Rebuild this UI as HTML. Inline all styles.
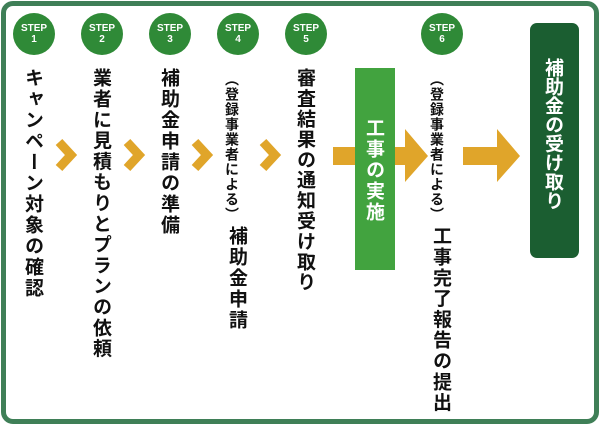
<!DOCTYPE html>
<html><head><meta charset="utf-8"><style>
html,body{margin:0;padding:0;background:#fff;}
#c{position:relative;width:600px;height:425px;overflow:hidden;background:#fff;font-family:"Liberation Sans","Noto Sans CJK JP",sans-serif;}
.frame{position:absolute;left:1px;top:1px;width:588px;height:413px;border:5px solid #3f7f57;border-radius:12px;}
.step{position:absolute;width:42px;height:42px;border-radius:50%;background:#2f8a37;color:#fff;font-weight:bold;font-size:10px;line-height:11px;text-align:center;box-sizing:border-box;padding-top:10px;font-family:"Liberation Sans",sans-serif;}
.v{position:absolute;writing-mode:vertical-rl;font-weight:bold;font-size:19px;line-height:22px;width:22px;color:#111;white-space:nowrap;font-family:"Noto Sans CJK JP",sans-serif;}
.s{font-size:14px;line-height:16px;width:16px;}
</style></head><body><div id="c">
<div class="frame"></div>

<div class="step" style="left:13px;top:13px">STEP<br>1</div>
<div class="step" style="left:81px;top:13px">STEP<br>2</div>
<div class="step" style="left:149px;top:13px">STEP<br>3</div>
<div class="step" style="left:217px;top:13px">STEP<br>4</div>
<div class="step" style="left:285px;top:13px">STEP<br>5</div>
<div class="step" style="left:421px;top:13px">STEP<br>6</div>

<div class="v" style="left:23px;top:68px;letter-spacing:2px">キャンペーン対象の確認</div>
<div class="v" style="left:91px;top:68px;letter-spacing:1.8px">業者に見積もりとプランの依頼</div>
<div class="v" style="left:159px;top:68px;letter-spacing:2px">補助金申請の準備</div>
<div class="v s" style="left:224px;top:72px;letter-spacing:1px">（登録事業者による）</div>
<div class="v" style="left:227px;top:226px;letter-spacing:2px">補助金申請</div>
<div class="v" style="left:295px;top:68px;letter-spacing:1.4px">審査結果の通知受け取り</div>
<div class="v s" style="left:429px;top:72px;letter-spacing:1px">（登録事業者による）</div>
<div class="v" style="left:431px;top:226px;letter-spacing:1.8px">工事完了報告の提出</div>

<svg width="600" height="425" style="position:absolute;left:0;top:0">
<g fill="none" stroke="#e0a52a" stroke-width="9" stroke-linejoin="miter">
<polyline points="59,142 71,155 59,168"/>
<polyline points="127,142 139,155 127,168"/>
<polyline points="195,142 207,155 195,168"/>
<polyline points="263,142 275,155 263,168"/>
</g>
<polygon fill="#e0a52a" points="333,147 405,147 405,129 428,156 405,182 405,165 333,165"/>
<polygon fill="#e0a52a" points="463,147 497,147 497,129 520,156 497,182 497,165 463,165"/>
</svg>

<div style="position:absolute;left:355px;top:68px;width:40px;height:202px;background:#42a33f"></div>
<div class="v" style="left:364px;top:118px;color:#fff;letter-spacing:2px">工事の実施</div>

<div style="position:absolute;left:530px;top:23px;width:49px;height:235px;background:#1b5e31;border-radius:7px"></div>
<div class="v" style="left:543px;top:58px;color:#fff;letter-spacing:0px">補助金の受け取り</div>
</div></body></html>
